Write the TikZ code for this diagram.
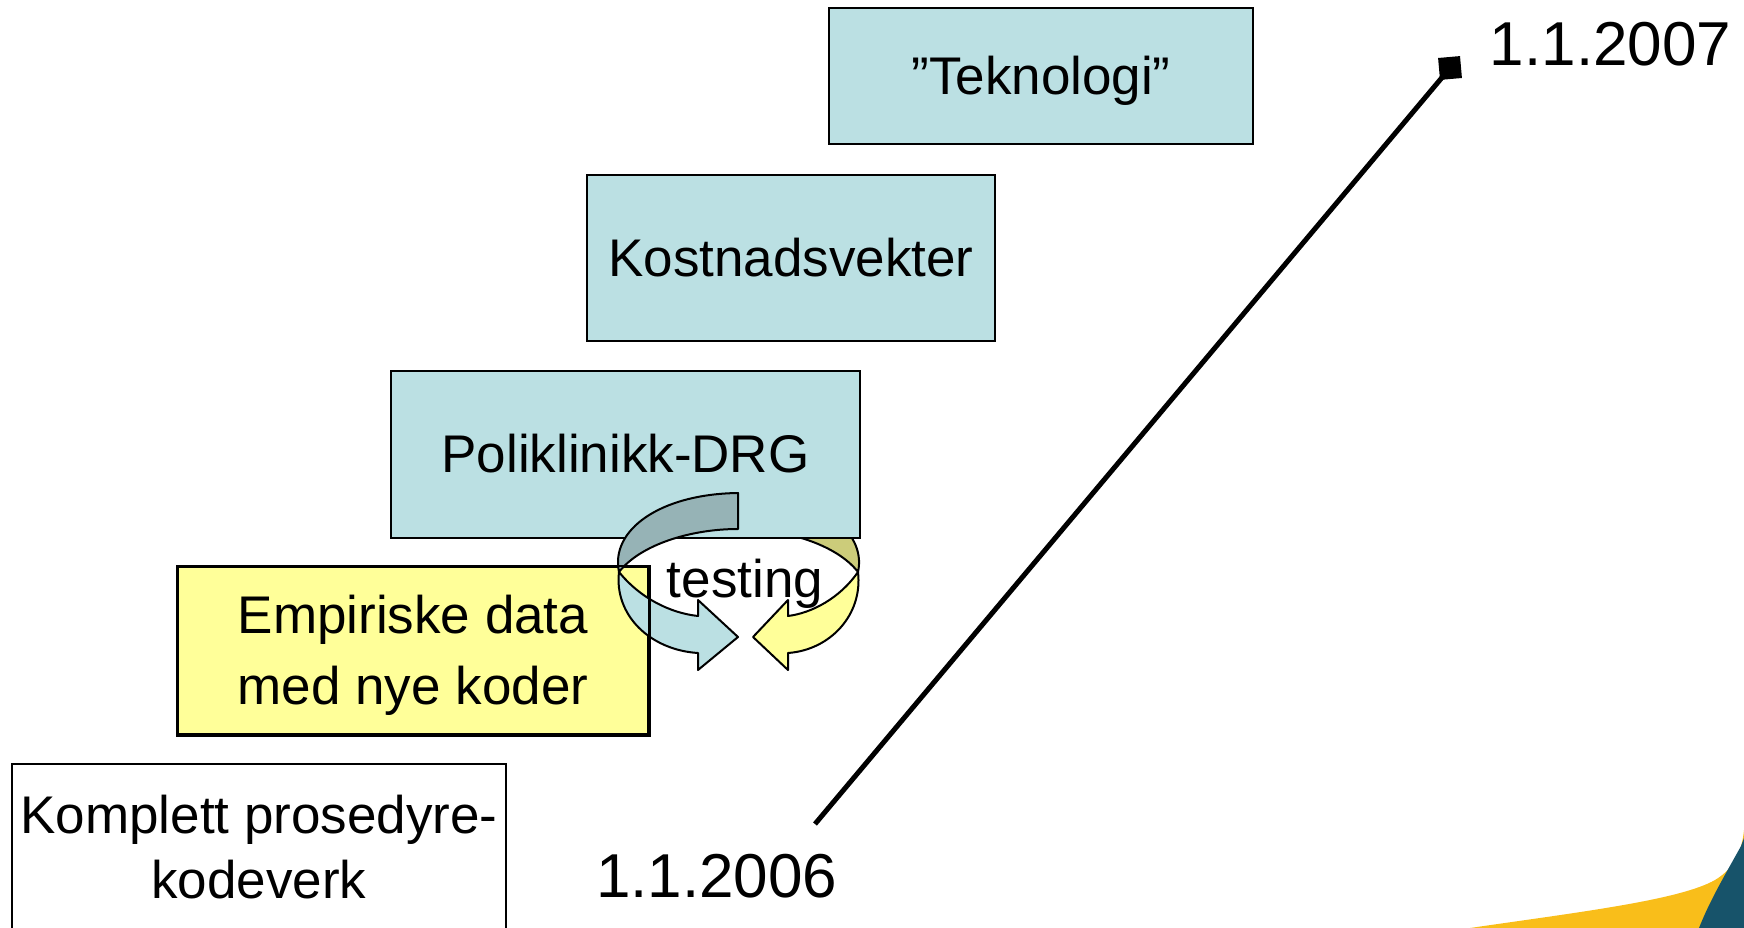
\documentclass[tikz,border=0pt]{standalone}
\usepackage{fontspec}
\setmainfont{Liberation Sans}
\definecolor{boxblue}{HTML}{BBE0E3}
\definecolor{boxyellow}{HTML}{FFFF99}
\definecolor{backblue}{HTML}{96B3B6}
\definecolor{backyellow}{HTML}{CCCC7A}
\definecolor{swoosh}{HTML}{F9BE1A}
\definecolor{cornerteal}{HTML}{17536A}
\begin{document}
\begin{tikzpicture}[x=1pt,y=-1pt,
  lbl/.style={font=\fontsize{53pt}{65pt}\selectfont},
  datelbl/.style={font=\fontsize{62pt}{70pt}\selectfont,inner sep=0pt,anchor=base},
  oneline/.style={text height=48pt,text depth=11.2pt},
  boxframe/.style={draw=black,line width=2.5pt,inner sep=0pt,lbl},
  frameonly/.style={draw=black,line width=2.5pt},
  band/.style={draw=black,line width=2pt,line join=round},
  timeline/.style={line width=5pt}
]
\useasboundingbox (0,0) rectangle (1744,928);

% corner decoration
\fill[swoosh] (1470,928) .. controls (1580,912) and (1680,900) .. (1715,880)
   .. controls (1735,868) and (1742,850) .. (1744,830) -- (1744,928) -- cycle;
\fill[cornerteal] (1744,838) -- (1741,846) .. controls (1725,875) and (1710,900) .. (1699,928) -- (1744,928) -- cycle;

% right (yellow) arrow of the cycle
\path[band, fill=backyellow] (739,493) .. controls (817,494) and (867,530) .. (858,572)
   .. controls (837,545) and (787,529) .. (739,529) -- cycle;
\path[band, fill=boxyellow] (858,572) .. controls (863,615) and (830,650) .. (788,653)
   -- (788,670) -- (753,637) -- (788,600) -- (788,616)
   .. controls (812,613) and (840,598) .. (858,572) -- cycle;

% boxes
\node[boxframe, fill=boxblue, oneline, minimum width=424pt, minimum height=136pt] (tek) at (1041,76) {”Teknologi”};
\node[boxframe, fill=boxblue, oneline, minimum width=408pt, minimum height=166pt] (kost) at (791,258) {Kostnadsvekter};
\node[boxframe, fill=boxblue, oneline, minimum width=469pt, minimum height=167pt] (poli) at (625.5,454.5) {Poliklinikk-DRG};
\node[boxframe, fill=boxyellow, align=center, minimum width=470pt, minimum height=167pt] (emp) at (413,650.5) {\rule{0pt}{48pt}Empiriske data\\[6pt]med nye koder};
\node[boxframe, fill=white, align=center, minimum width=494pt, minimum height=166pt] (komp) at (259,847) {Komplett prosedyre-\\kodeverk};

% left (blue) arrow of the cycle
\path[band, fill=boxblue] (619,572) .. controls (614,615) and (650,650) .. (698,653)
   -- (698,670) -- (738,637) -- (698,600) -- (698,616)
   .. controls (670,613) and (640,598) .. (619,572) -- cycle;
\path[band, fill=backblue] (738,493) .. controls (660,494) and (610,530) .. (619,572)
   .. controls (640,545) and (690,529) .. (738,529) -- cycle;
\draw[frameonly] (emp.north west) rectangle (emp.south east);

\node[lbl, inner sep=0pt, anchor=base] (testing) at (745,597) {testing};

% time line
\node[datelbl] (d2006) at (716.7,897) {1.1.2006};
\node[datelbl] (d2007) at (1610.6,66) {1.1.2007};
\coordinate (lstart) at (815,824);
\node[fill=black, minimum size=22pt, inner sep=0pt, rotate=5] (tip) at (1450,68) {};
\draw[timeline] (lstart) -- (tip.center);
\end{tikzpicture}
\end{document}
